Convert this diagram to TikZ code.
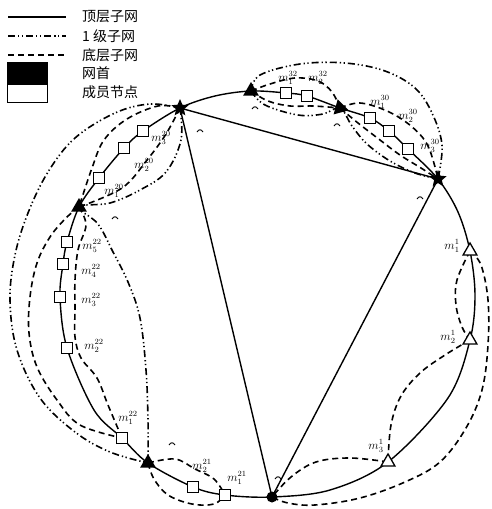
\documentclass[tikz,border=0pt]{standalone}
\usepackage{fontspec}
\newfontfamily\cjk{Noto Sans CJK SC}
\usetikzlibrary{shapes.geometric}
\begin{document}
\begin{tikzpicture}[x=1pt,y=-1pt,
  solidln/.style={line width=1.4pt},
  lvone/.style={line width=1.6pt,dash pattern=on 7pt off 3pt on 1.3pt off 2.5pt on 1.3pt off 3pt},
  lvbot/.style={line width=1.6pt,dash pattern=on 6pt off 4pt},
  member/.style={draw,line width=1.3pt,fill=white,minimum size=11.5pt,inner sep=0pt},
  fhead/.style={regular polygon,regular polygon sides=3,fill=black,minimum size=18pt,inner sep=0pt},
  ohead/.style={regular polygon,regular polygon sides=3,draw,line width=1.3pt,fill=white,minimum size=16pt,inner sep=0pt},
  thead/.style={star,star points=5,star point ratio=2.2,fill=black,minimum size=18pt,inner sep=0pt},
  lbl/.style={font=\fontsize{12}{12}\selectfont,inner sep=0pt},
  leg/.style={font=\cjk\fontsize{14}{15}\selectfont,anchor=west,inner sep=0pt},
  tilde/.pic={\draw[line width=0.9pt] (-3,1) .. controls (-1,-2) and (1,-2) .. (3,1);}
]
\useasboundingbox (0,0) rectangle (492,509);
% ---------- legend
\coordinate (l1a) at (8,17); \coordinate (l1b) at (66,17);
\coordinate (l2a) at (8,36); \coordinate (l2b) at (66,36);
\coordinate (l3a) at (8,55); \coordinate (l3b) at (66,55);
\draw[solidln] (l1a) -- (l1b);
\draw[lvone] (l2a) -- (l2b);
\draw[lvbot] (l3a) -- (l3b);
\node[leg] (t1) at (82,17) {顶层子网};
\node[leg] (t2) at (82,36) {1 级子网};
\node[leg] (t3) at (82,55) {底层子网};
\node[leg] (t4) at (82,73) {网首};
\node[leg] (t5) at (82,92) {成员节点};
\node[draw,fill=black,line width=1pt,minimum width=40pt,minimum height=21pt,inner sep=0pt] (lb) at (27.5,73) {};
\node[draw,fill=white,line width=1pt,minimum width=40pt,minimum height=18pt,inner sep=0pt,anchor=north] (lw) at (lb.south) {};
% ---------- coordinates
\coordinate (pA) at (180,108);
\coordinate (pT1) at (251,91);
\coordinate (q32a) at (286,93);
\coordinate (q32b) at (307,96);
\coordinate (pT2) at (340,108);
\coordinate (q30a) at (370,118);
\coordinate (q30b) at (389,131);
\coordinate (q30c) at (408,149);
\coordinate (pB) at (438,179);
\coordinate (r1) at (470,251);
\coordinate (r2) at (470,340);
\coordinate (r3) at (388,462);
\coordinate (pC) at (272,497);
\coordinate (q21a) at (225,495);
\coordinate (q21b) at (193,487);
\coordinate (pE) at (148,463);
\coordinate (q22a) at (122,438);
\coordinate (q22b) at (67,348);
\coordinate (q22c) at (60,297);
\coordinate (q22d) at (63,264);
\coordinate (q22e) at (67,242);
\coordinate (pD) at (79,207);
\coordinate (q20a) at (99,178);
\coordinate (q20b) at (124,148);
\coordinate (q20c) at (143,131);
% ---------- solid top-level curve and triangle
\draw[solidln] plot[smooth cycle,tension=0.55] coordinates {
 (pA) (215,96) (pT1) (q32a) (q32b) (pT2) (q30a) (q30b) (q30c) (pB) (458,212) (r1) (475,295) (r2) (448,398) (r3) (330,490) (pC)
 (q21a) (q21b) (pE) (q22a) (94,410) (q22b) (q22c) (q22d) (q22e) (pD) (q20a) (q20b) (q20c)};
\draw[solidln] (pA) -- (pB) -- (pC) -- (pA);
% ---------- level-1 subnets (dash dot dot)
\draw[lvone] plot[smooth,tension=0.6] coordinates {(pT1) (260,75) (300,64) (345,63) (385,71) (415,88) (432,113) (442,145) (pB)};
\draw[lvone] plot[smooth,tension=0.6] coordinates {(pT1) (265,105) (298,115) (323,114) (pT2) (352,126) (367,144) (390,161) (415,173) (pB)};
\draw[lvone] plot[smooth,tension=0.6] coordinates {(pA) (150,104) (115,113) (75,138) (48,172) (28,213) (15,255) (10,300) (17,350) (40,398) (75,432) (110,452) (pE)};
\draw[lvone] plot[smooth,tension=0.6] coordinates {(pA) (181,140) (166,172) (140,190) (110,203) (pD) (98,224) (113,252) (128,282) (140,318) (146,370) (148,420) (pE)};
% ---------- bottom-level subnets (dashed)
\draw[lvbot] plot[smooth,tension=0.6] coordinates {(pT1) (270,84) (295,78) (318,81) (332,92) (pT2)};
\draw[lvbot] plot[smooth,tension=0.6] coordinates {(pT1) (268,101) (290,106) (313,106) (pT2)};
\draw[lvbot] plot[smooth,tension=0.6] coordinates {(pT2) (360,103) (387,111) (411,126) (428,146) (pB)};
\draw[lvbot] plot[smooth,tension=0.6] coordinates {(pT2) (358,123) (380,140) (400,155) (421,168) (pB)};
\draw[lvbot] plot[smooth,tension=0.6] coordinates {(pA) (158,106) (127,119) (104,140) (92,168) (pD)};
\draw[lvbot] plot[smooth,tension=0.6] coordinates {(pA) (166,134) (147,160) (122,188) (pD)};
\draw[lvbot] plot[smooth,tension=0.6] coordinates {(pD) (66,218) (50,237) (37,263) (30,297) (29,333) (37,367) (57,400) (80,425) (q22a)};
\draw[lvbot] plot[smooth,tension=0.6] coordinates {(pD) (86,225) (78,250) (75,280) (75,310) (75,337) (81,358) (97,378) (108,405) (q22a)};
\draw[lvbot] plot[smooth,tension=0.6] coordinates {(pE) (175,459) (195,469) (214,479) (q21a)};
\draw[lvbot] plot[smooth,tension=0.6] coordinates {(pE) (154,479) (168,495) (192,504) (214,504) (q21a)};
\draw[lvbot] plot[smooth,tension=0.6] coordinates {(r1) (481,265) (488,300) (488,345) (482,390) (466,428) (440,462) (405,482) (360,498) (315,505) (288,503) (pC)};
\draw[lvbot] plot[smooth,tension=0.6] coordinates {(r1) (457,280) (456,305) (462,327) (r2)};
\draw[lvbot] plot[smooth,tension=0.6] coordinates {(r2) (445,355) (420,373) (401,396) (391,425) (r3)};
\draw[lvbot] plot[smooth,tension=0.6] coordinates {(r3) (350,458) (316,462) (291,477) (pC)};
% ---------- small marks
\foreach \p in {(200,131),(255,108),(337,125),(420,198),(115,218),(172,444),(278,478)} \pic at \p {tilde};
% ---------- nodes
\node[thead] (A) at (pA) {};
\node[thead] (B) at (pB) {};
\node[circle,fill=black,minimum size=11pt,inner sep=0pt] (C) at (pC) {};
\node[fhead] (T1) at (pT1) {};
\node[fhead,rotate=15] (T2) at (pT2) {};
\node[fhead] (D) at (pD) {};
\node[fhead] (E) at (pE) {};
\node[ohead] (M11) at (r1) {};
\node[ohead] (M12) at (r2) {};
\node[ohead] (M13) at (r3) {};
\node[member] (S32a) at (q32a) {};
\node[member] (S32b) at (q32b) {};
\node[member] (S30a) at (q30a) {};
\node[member] (S30b) at (q30b) {};
\node[member] (S30c) at (q30c) {};
\node[member] (S20a) at (q20a) {};
\node[member] (S20b) at (q20b) {};
\node[member] (S20c) at (q20c) {};
\node[member] (S22a) at (q22a) {};
\node[member] (S22b) at (q22b) {};
\node[member] (S22c) at (q22c) {};
\node[member] (S22d) at (q22d) {};
\node[member] (S22e) at (q22e) {};
\node[member] (S21a) at (q21a) {};
\node[member] (S21b) at (q21b) {};
% ---------- labels
\node[lbl] (L32a) at (288,78) {$m_1^{32}$};
\node[lbl] (L32b) at (318,78) {$m_2^{32}$};
\node[lbl] (L30a) at (380,102) {$m_1^{30}$};
\node[lbl] (L30b) at (408,116) {$m_2^{30}$};
\node[lbl] (L30c) at (430,146) {$m_3^{30}$};
\node[lbl] (L20c) at (161,138) {$m_3^{20}$};
\node[lbl] (L20b) at (144,165) {$m_2^{20}$};
\node[lbl] (L20a) at (114,191) {$m_1^{20}$};
\node[lbl] (L22e) at (92,246) {$m_5^{22}$};
\node[lbl] (L22d) at (91,271) {$m_4^{22}$};
\node[lbl] (L22c) at (91,300) {$m_3^{22}$};
\node[lbl] (L22b) at (94,346) {$m_2^{22}$};
\node[lbl] (L22a) at (128,418) {$m_1^{22}$};
\node[lbl] (L21b) at (202,466) {$m_2^{21}$};
\node[lbl] (L21a) at (237,478) {$m_1^{21}$};
\node[lbl] (L11) at (452,246) {$m_1^{1}$};
\node[lbl] (L12) at (448,337) {$m_2^{1}$};
\node[lbl] (L13) at (376,446) {$m_3^{1}$};
\end{tikzpicture}
\end{document}
